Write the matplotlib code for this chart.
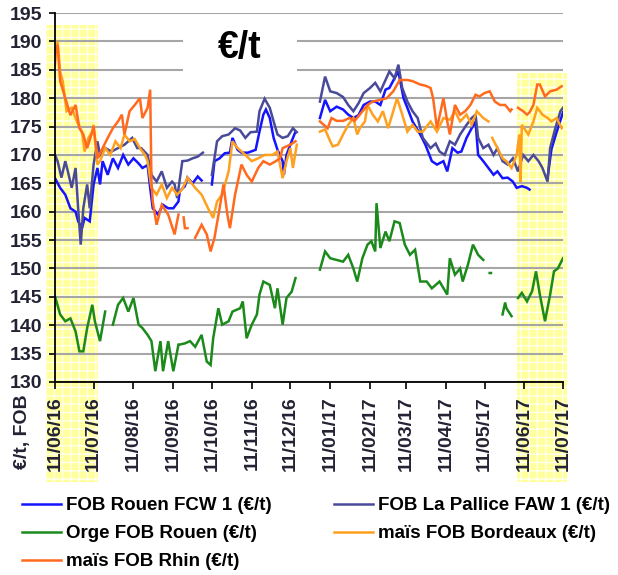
import numpy as np
import matplotlib.pyplot as plt
import matplotlib.dates as mdates
from matplotlib.patches import Rectangle

plt.rcParams['font.family'] = ['Liberation Sans', 'DejaVu Sans']
plt.rcParams['font.weight'] = 'bold'

# dates are given as days after 11/06/2016, nan = no quote
start = np.datetime64('2016-06-11')
nan = np.nan

rouen_days = [0, 4, 8, 12, 16, 18, 21, 23, 27, 30, 33, 35, 37, 41, 45, 49, 53, 57, 61, 65, 68, 72, 74, 76, 80, 84, 88, 92, 96,
              97, 101, 103, 107, 111, 114, 118, 122, 124, 128, 132, 136, 138, 142, 145, 150, 156, 159, 162, 164, 167, 170,
              173, 177, 178, 180, 184, 187, 196, 206, 210, 214, 219, 224, 228, 232, 236, 240, 245, 249, 253, 257, 260, 264,
              267, 271, 274, 278, 284, 288, 293, 297, 302, 305, 309, 313, 316, 320, 324, 327, 329, 333, 337, 341, 344, 348,
              352, 356, 359, 363, 367, 369, 375, 383, 386, 390, 395]
rouen_vals = [165.9, 164.2, 163, 160.6, 160, 158.3, 157.1, 158.9, 158.3, 164.8, 167.7, 164.8, 168.9, 166.5, 169.4, 167.7,
              170, 168.3, 169.4, 168.5, 167.7, 168.2, 164.2, 160.6, 159.5, 161.2, 160.6, 160.6, 161.8,
              163.6, 164.5, 166, 165, 166.2, 165.5, nan, 164.8, 168.9, 169.4, 170.3, 170.4, 173, 170.9, 170.4, 170.4, 170.9,
              174.1, 177.1, 178, 176.5, 173,
              170.9, 168.9, 166.5, 170, 172.4, 174.1, nan, 176.5, 179.7, 177.7, 178.5, 178, 177.1, 176.5, 177, 178.8, 179.4,
              179.4, 178.8, 181.5, 181.8, 183.5,
              184.7, 180, 178.3, 175.9, 173.6, 171.8, 168.9, 168.3, 168.9, 167.1, 171.2, 170.4, 170.6, 173, 174.7, 175.9,
              170, 168.9, 167.7, 166.5, 167.1, 165.9,
              166, 165.3, 164.2, 164.5, 164.2, 163.9, nan, 166, 171, 174, 177.5]

pallice_days = [0, 2, 5, 8, 10, 13, 16, 18, 20, 22, 25, 27, 30, 33, 35, 39, 44, 49, 54, 60, 64, 67, 72, 75, 79, 83, 87, 91,
                93, 95, 99, 103, 107, 111, 115, 118, 122, 126, 130, 135, 140, 144, 148, 152, 157, 159, 163, 167, 170, 173,
                177, 181, 185, 188, 196, 206, 210, 214, 219, 224, 228, 232, 236, 240, 245, 249, 253, 257, 260, 264, 267,
                270, 274, 278, 282, 286, 292, 296, 299, 303, 307, 311, 315, 320, 324, 327, 329, 333, 337, 341, 344, 348,
                352, 356, 360, 364, 368, 372, 376, 379, 383, 385, 389, 393, 395]
pallice_vals = [170, 168.9, 166, 168.9, 167.1, 164.2, 167.7, 160.6, 154.2, 160.6, 164.8, 160.6, 168.3, 172.4, 170, 171.2,
                170.6, 171.2, 171.8, 173, 171.2, 171.2, 170, 166.5, 165.3, 167.1, 164.2, 165.3,
                164.8, 162.4, 168.9, 169, 169.4, 169.7, 170.4, nan, 166.5, 172.4, 173.3, 173.6, 174.7, 174.3, 173, 174,
                174.1, 177.7, 179.9, 178.3, 175.9, 173.6,
                173, 173.3, 174.7, 174, nan, 179.4, 183.8, 181.2, 180.9, 180.2, 178.8, 177.7, 179.1, 180.9, 181.8, 182.7,
                181.2, 183.2, 184.7, 183.5, 185.9,
                181.8, 179.4, 177.7, 176.5, 173, 171.2, 172, 170.6, 170, 172.4, 171.8, 173.6, 175.3, 176.5, 177.1, 173,
                171.2, 171.8, 170, 171.2, 168.9,
                168.3, 169.4, 167.1, 170, 168.9, 170, 168.9, 167.7, 165.3, 171.2, 174.7, 177.7, 178.3]

orge_days = [0, 4, 8, 12, 16, 19, 22, 25, 29, 31, 35, 39, 42, 45, 49, 53, 57, 61, 65, 68, 72, 75, 78, 82, 84, 88, 92, 96,
             97, 101, 105, 109, 114, 118, 121, 123, 127, 130, 135, 138, 144, 146, 149, 153, 157, 159, 162, 167, 171, 173,
             177, 180, 184, 187, 196, 206, 210, 214, 219, 224, 228, 232, 235, 239, 243, 246, 249, 250, 253, 257, 260,
             264, 268, 272, 276, 280, 284, 289, 293, 299, 305, 307, 311, 315, 317, 321, 325, 329, 333, 336, 338, 339,
             342, 348, 350, 351, 355, 357, 360, 363, 367, 371, 374, 377, 381, 385, 388, 391, 395]
orge_vals = [145.1, 141.9, 140.7, 141.2, 138.9, 135.4, 135.4, 139.5, 143.6, 140.7, 137.2, 142.4, nan, 140.1, 143.6, 144.8,
             142.4, 144.8, 140.1, 139.5, 138.3, 137.2, 131.9, 137.2, 131.9, 137.2, 131.9, 136.6,
             136.6, 136.8, 137.2, 136.2, 138.3, 133.6, 133, 137.7, 143, 140.1, 140.7, 142.4, 143, 144.2, 137.7, 140.1,
             141.9, 145.4, 147.7, 147.1, 143, 146.5,
             140.1, 144.8, 145.9, 148.3, nan, 149.8, 153, 151.8, 151.5, 151.2, 152.4, 150, 147.7, 151.8, 154.2, 154.8,
             153, 161.5, 153.6, 156.5, 154.8,
             158.3, 158, 154.2, 152.4, 153.3, 147.7, 147.7, 146.5, 147.7, 145.4, 151.8, 148.9, 150, 147.7, 150.6, 154.2,
             152.4, 151.5, nan, 149.2, 149.2,
             nan, 141.9, 144, 143, 141.6, nan, 144.8, 145.7, 144.2, 146, 149.5, 145.4, 140.7, 145.4, 149.5, 150, 151.8]

bordeaux_days = [0, 2, 4, 6, 9, 13, 17, 21, 23, 26, 29, 30, 33, 35, 39, 43, 47, 51, 54, 58, 62, 66, 70, 72, 75, 79, 83,
                 87, 91, 95, 99, 103, 109, 114, 119, 123, 126, 130, 135, 138, 142, 148, 153, 158, 163, 169, 173, 177,
                 180, 183, 185, 188, 196, 206, 210, 214, 216, 220, 224, 228, 232, 235, 237, 241, 243, 247, 251, 255, 259,
                 263, 266, 270, 274, 278, 282, 286, 292, 297, 302, 307, 311, 315, 320, 324, 328, 333, 337, 339, 340, 344,
                 348, 351, 355, 359, 361, 362, 363, 368, 372, 375, 379, 383, 386, 390, 394]
bordeaux_vals = [186, 190, 184.7, 183, 177.7, 178.3, 175.9, 174.1, 170.6, 173, 174.1, 175.3, 168.3, 168.9, 171.2, 170,
                 172.4, 171.2, 173.6, 172.4, 172.8, 171.2, 170, 168.9, 164.2, 163, 164.8,
                 162.4, 164.2, 163, 164, 166, 164.2, 163, 160.6, 158.9, 161.8, 163, 167.1, 172.4, 171.2, 170, 168.9, 169.4,
                 170, 170, 170.6, 165.9,
                 168.9, 171.2, 167.7, 171.8, nan, 174.1, 174.5, 172.4, 171.5, 171.8, 173.6, 175.3, 176.5, 173.6, 174.7,
                 175.9, 178.8, 177.1, 175.9, 177.7, 174.7,
                 177.7, 180, 177.1, 174.1, 175.3, 174.1, 174.1, 175.9, 174.1, 176.5, 176.2, 177.7, 175.9, 177.1, 175.3,
                 177.7, 176.5, 175.9, nan, 173, 171.2,
                 169.4, 168.9, 167.7, 170, 173.6, 165.3, 175.3, 173.6, 175.9, 178.3, 177.1, 176.5, 175.9, 176.5, 174.7]

rhin_days = [0, 2, 4, 8, 12, 16, 19, 22, 25, 29, 30, 33, 37, 41, 45, 49, 52, 54, 58, 62, 66, 68, 72, 74, 75, 76, 79, 83,
             88, 93, 96, 98, 100, 101, 103, 105, 109, 114, 118, 121, 124, 128, 131, 134, 136, 140, 145, 149, 153, 158,
             162, 167, 171, 175, 177, 183, 187, 196, 206, 212, 215, 219, 224, 229, 233, 237, 243, 247, 253, 258, 263,
             268, 274, 278, 284, 288, 292, 294, 297, 302, 305, 307, 311, 315, 319, 323, 327, 330, 334, 338, 342, 346,
             350, 354, 355, 357, 360, 364, 367, 369, 372, 375, 377, 381, 385, 390, 394]
rhin_vals = [187.7, 189.4, 183, 180, 177, 178.8, 174.7, 173.6, 171.2, 174.1, 175, 169.4, 171.2, 173, 174.7, 175.9, 177.1,
             173.6, 177.7, 178.8, 180, 176.5, 178.3, 181.5, 165.3, 161.8, 157.7, 161.2,
             159.5, 156, 159.5, nan, 159, 157.1, 157.1, nan, 155.4, 157.7, 156, 153, 155.4, 160.6, 164.8, 159.5, 157.1,
             163, 168.3, 166.5, 165.3, 167.7,
             168.9, 168.3, 168.8, 169.4, 171.2, 171.8, 172.4, nan, 175.9, 174.7, 176.5, 176, 176, 176.5, 176, 177.1,
             178.8, 179.4, 179.7, 180, 181.2,
             183.2, 183.2, 183, 182.4, 182.2, 181.8, 180, 174.7, 180, 175.9, 173.6, 178.8, 177.1, 177.7, 178.8, 180.6,
             180.3, 180.9, 181.2, 179.4, 178.8,
             178.8, 177.7, 178, nan, 178.3, 177.7, 177.1, 177.5, 178.8, 182.4, 182.4, 180.3, 181.2, 181.5, 182.1]

series = [
    ('FOB Rouen FCW 1 (€/t)', rouen_days, rouen_vals, '#1414ff'),
    ('FOB La Pallice FAW 1 (€/t)', pallice_days, pallice_vals, '#4a4a9a'),
    ('Orge FOB Rouen (€/t)', orge_days, orge_vals, '#1b8a1b'),
    ('maïs FOB Bordeaux (€/t)', bordeaux_days, bordeaux_vals, '#ffa01e'),
    ('maïs FOB Rhin (€/t)', rhin_days, rhin_vals, '#ff6a1e'),
]

tick_dates = np.arange(np.datetime64('2016-06'), np.datetime64('2017-08'), np.timedelta64(1, 'M')).astype('datetime64[D]') + 10

fig = plt.figure(figsize=(6.18, 5.75), dpi=100)
ax = fig.add_axes([55/618, 1-382/575, 508/618, 369/575])
ax.set_facecolor('none')
ax.set_zorder(2)

# yellow highlighted periods (behind the axes)
for (x0, y0, w, h) in [(46, 25, 52, 457), (517, 73, 50, 409)]:
    fig.patches.append(Rectangle((x0/618, 1-(y0+h)/575), w/618, h/575, transform=fig.transFigure,
                                 facecolor='#ffff9c', edgecolor='#fffff0', hatch='++', lw=0, zorder=0))

handles = {}
for name, d, v, col in series:
    dates = start + np.array(d).astype('timedelta64[D]')
    ln, = ax.plot(dates, v, color=col, lw=1.8, label=name, solid_joinstyle='miter')
    handles[name] = ln

ax.set_ylim(130, 195)
ax.set_yticks(np.arange(130, 196, 5))
ax.set_xlim(tick_dates[0], tick_dates[-1])
ax.set_xticks(tick_dates)
ax.xaxis.set_major_formatter(mdates.DateFormatter('%d/%m/%y'))
ax.yaxis.grid(True, color='#a6a6a6', lw=1.5)
ax.set_axisbelow(True)
for s in ['top', 'right']:
    ax.spines[s].set_visible(False)
for s in ['left', 'bottom']:
    ax.spines[s].set_linewidth(1.3)
ax.tick_params(axis='y', length=4, width=1.2, pad=5, labelsize=14, labelcolor='#222233')
ax.tick_params(axis='x', length=5, width=1.2, pad=5, labelsize=14, labelrotation=90, labelcolor='#222233')
for lab in ax.get_xticklabels() + ax.get_yticklabels():
    lab.set_fontweight('bold')

# title box
ax.add_patch(Rectangle((0.252, 0.832), 0.224, 0.15, transform=ax.transAxes, facecolor='white',
                       edgecolor='none', zorder=3))
ax.text(0.364, 0.905, '€/t', transform=ax.transAxes, ha='center', va='center', fontsize=27,
        fontweight='bold', zorder=4)

fig.text(0.036, 1-394/575, '€/t, FOB', rotation=90, ha='center', va='top', fontsize=14,
         fontweight='bold', color='#222233')

order = ['FOB Rouen FCW 1 (€/t)', 'Orge FOB Rouen (€/t)', 'maïs FOB Rhin (€/t)',
         'FOB La Pallice FAW 1 (€/t)', 'maïs FOB Bordeaux (€/t)']
fig.legend([handles[k] for k in order], order, ncol=2, loc='upper left', bbox_to_anchor=(22/618, 1-497/575),
           frameon=False, prop={'size': 13.5, 'weight': 'bold'}, handlelength=2.1, handletextpad=0.25,
           columnspacing=3.3, labelspacing=0.58, borderaxespad=0, borderpad=0)

fig.savefig('out.png', dpi=100)
